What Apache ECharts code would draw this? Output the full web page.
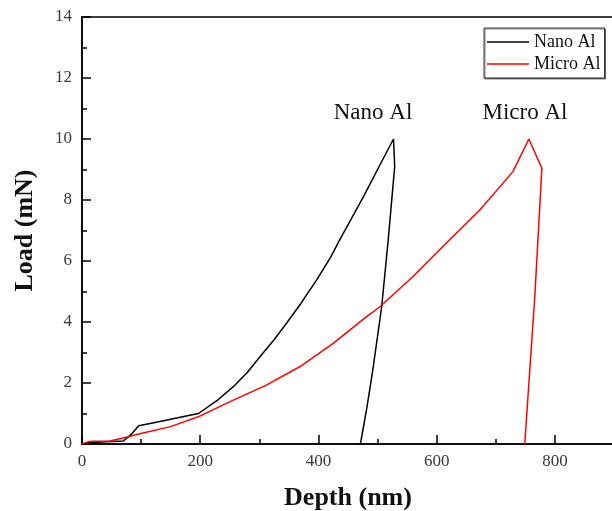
<!DOCTYPE html>
<html>
<head>
<meta charset="utf-8">
<script src="https://cdn.jsdelivr.net/npm/echarts@6/dist/echarts.min.js"></script>
<style>
  html, body { margin: 0; padding: 0; background: #fff; }
  #main { width: 612px; height: 511px; }
</style>
</head>
<body>
<div id="main"></div>
<script>
// load-depth curves
var nanoDepth = [0, 10, 20, 40, 70, 85, 96, 130, 160, 197, 230, 256, 280, 301, 325, 346, 370, 397, 420, 436, 456, 476, 500, 527, 529, 518, 507, 492, 482, 471];
var nanoLoad  = [0, 0.03, 0.05, 0.07, 0.1, 0.35, 0.6, 0.73, 0.85, 1.0, 1.45, 1.88, 2.35, 2.86, 3.42, 3.96, 4.6, 5.38, 6.1, 6.69, 7.4, 8.1, 9.0, 10.0, 9.1, 6.69, 4.5, 2.43, 1.2, 0];

var microDepth = [0, 10, 19, 47, 70, 96, 150, 200, 256, 312, 369, 425, 481, 504, 560, 616, 673, 729, 756, 778, 766, 749];
var microLoad  = [0, 0.07, 0.09, 0.1, 0.2, 0.33, 0.57, 0.92, 1.44, 1.93, 2.54, 3.3, 4.17, 4.5, 5.49, 6.58, 7.67, 8.93, 10.0, 9.04, 4.83, 0];

var seriesNames = ['Nano Al', 'Micro Al'];

function pairs(xs, ys) {
    var out = [];
    for (var i = 0; i < xs.length; i++) out.push([xs[i], ys[i]]);
    return out;
}

var serif = 'Liberation Serif';
var chart = echarts.init(document.getElementById('main'));

var option = {
    animation: false,
    backgroundColor: '#fff',
    grid: {
        left: 82, right: -2, top: 17, bottom: 67,
        containLabel: false,
        outerBoundsMode: 'none',
        show: true,
        borderColor: '#000',
        borderWidth: 1.5
    },
    legend: {
        orient: 'vertical',
        left: 484, top: 28,
        padding: [5, 4, 5, 3],
        itemGap: 4,
        icon: 'rect',
        itemWidth: 42,
        itemHeight: 1.5,
        backgroundColor: '#fff',
        borderColor: '#333',
        borderWidth: 1,
        shadowColor: 'rgba(0,0,0,0.5)',
        shadowOffsetX: 1,
        shadowOffsetY: 1,
        textStyle: { fontFamily: serif, fontSize: 18, color: '#111' },
        data: seriesNames
    },
    xAxis: {
        type: 'value',
        min: 0, max: 900, interval: 200,
        name: 'Depth (nm)',
        nameLocation: 'middle',
        nameGap: 41,
        nameTextStyle: { fontFamily: serif, fontSize: 26, fontWeight: 'bold', color: '#111' },
        axisLine: { lineStyle: { color: '#000', width: 1.5 } },
        axisTick: { inside: true, length: 9, lineStyle: { color: '#000', width: 1.5 } },
        minorTick: { show: true, splitNumber: 2, length: 5, lineStyle: { color: '#000', width: 1.5 } },
        splitLine: { show: false },
        axisLabel: { fontFamily: serif, fontSize: 17, color: '#3a3a3a', margin: 9, showMaxLabel: false }
    },
    yAxis: {
        type: 'value',
        min: 0, max: 14, interval: 2,
        name: 'Load (mN)',
        nameLocation: 'middle',
        nameGap: 44,
        nameTextStyle: { fontFamily: serif, fontSize: 26, fontWeight: 'bold', color: '#111' },
        axisLine: { show: true, lineStyle: { color: '#000', width: 1.5 } },
        axisTick: { show: true, inside: true, length: 9, lineStyle: { color: '#000', width: 1.5 } },
        minorTick: { show: true, splitNumber: 2, length: 5, lineStyle: { color: '#000', width: 1.5 } },
        splitLine: { show: false },
        axisLabel: { fontFamily: serif, fontSize: 17, color: '#3a3a3a', margin: 10 }
    },
    graphic: [
        { type: 'text', x: 373, y: 113, style: { text: 'Nano Al', font: '23px "Liberation Serif"', fill: '#111', align: 'center', verticalAlign: 'middle' } },
        { type: 'text', x: 525, y: 113, style: { text: 'Micro Al', font: '23px "Liberation Serif"', fill: '#111', align: 'center', verticalAlign: 'middle' } }
    ],
    series: [
        {
            name: seriesNames[0],
            type: 'line',
            symbol: 'none',
            lineStyle: { color: '#000', width: 1.5 },
            itemStyle: { color: '#000' },
            data: pairs(nanoDepth, nanoLoad)
        },
        {
            name: seriesNames[1],
            type: 'line',
            symbol: 'none',
            lineStyle: { color: '#ff0000', width: 1.5 },
            itemStyle: { color: '#ff0000' },
            data: pairs(microDepth, microLoad)
        }
    ]
};

chart.setOption(option);
</script>
</body>
</html>
